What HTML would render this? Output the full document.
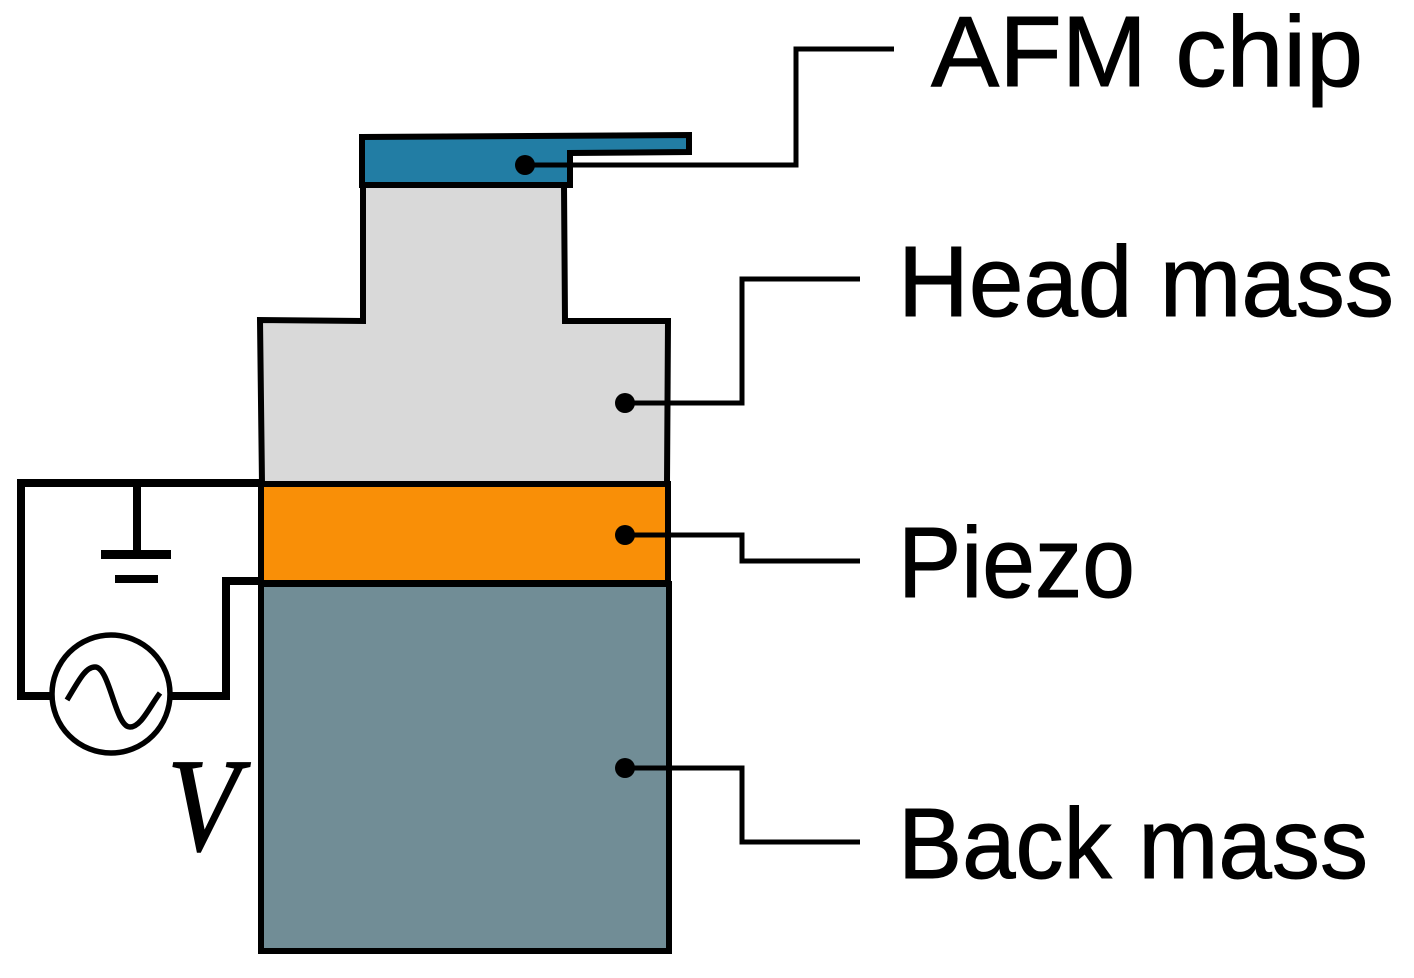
<!DOCTYPE html>
<html>
<head>
<meta charset="utf-8">
<style>
html,body{margin:0;padding:0;background:#fff;width:1414px;height:978px;overflow:hidden}
svg{display:block}
text{font-family:"Liberation Sans",sans-serif;fill:#000}
</style>
</head>
<body>
<svg width="1414" height="978" viewBox="0 0 1414 978" xmlns="http://www.w3.org/2000/svg">
  <!-- Back mass -->
  <rect x="261" y="584" width="408" height="367" fill="#718d96" stroke="#000" stroke-width="6"/>
  <!-- Head mass -->
  <polygon points="363,185 363,321 260,320 262,484 667,484 668,321 565,321 564,185" fill="#d9d9d9" stroke="#000" stroke-width="6"/>
  <!-- Piezo -->
  <rect x="261" y="484" width="407" height="99" fill="#f98f07" stroke="#000" stroke-width="6"/>
  <!-- AFM chip -->
  <polygon points="362,137 689,135 689,152 570,153 570,185 362,185" fill="#227da4" stroke="#000" stroke-width="6"/>

  <!-- Circuit -->
  <g fill="none" stroke="#000" stroke-width="8">
    <polyline points="260,483 21,483 21,696 52,696"/>
    <polyline points="172,696 226,696 226,581 260,581"/>
    <line x1="137" y1="484" x2="137" y2="552"/>
  </g>
  <rect x="101" y="550" width="70" height="9" fill="#000"/>
  <rect x="115" y="575" width="43" height="8" fill="#000"/>
  <circle cx="111" cy="694" r="59" fill="#fff" stroke="#000" stroke-width="5.5"/>
  <path d="M67,700 C78,682 85,667 95,667 C110,667 115,727 130,727 C141,727 150,706 160,693" fill="none" stroke="#000" stroke-width="5.5"/>
  <text x="167" y="850" font-size="133" font-style="italic" textLength="72" lengthAdjust="spacingAndGlyphs" stroke="#000" stroke-width="1.5" style="font-family:'Liberation Serif',serif">V</text>

  <!-- Leader lines -->
  <g fill="none" stroke="#000" stroke-width="5">
    <polyline points="525,165 796,165 796,49 894,49"/>
    <polyline points="625,403 742,403 742,279 860,279"/>
    <polyline points="625,535 742,535 742,561 860,561"/>
    <polyline points="625,768 742,768 742,842 860,842"/>
  </g>
  <g fill="#000">
    <circle cx="525" cy="165" r="10"/>
    <circle cx="625" cy="403" r="10"/>
    <circle cx="625" cy="535" r="10"/>
    <circle cx="625" cy="768" r="10"/>
  </g>

  <!-- Labels -->
  <g stroke="#000" stroke-width="1">
    <text x="931" y="86" font-size="100" textLength="432" lengthAdjust="spacingAndGlyphs">AFM chip</text>
    <text x="898" y="316" font-size="100" textLength="496" lengthAdjust="spacingAndGlyphs">Head mass</text>
    <text x="898" y="597" font-size="100" textLength="237" lengthAdjust="spacingAndGlyphs">Piezo</text>
    <text x="898" y="878" font-size="100" textLength="470" lengthAdjust="spacingAndGlyphs">Back mass</text>
  </g>
</svg>
</body>
</html>
